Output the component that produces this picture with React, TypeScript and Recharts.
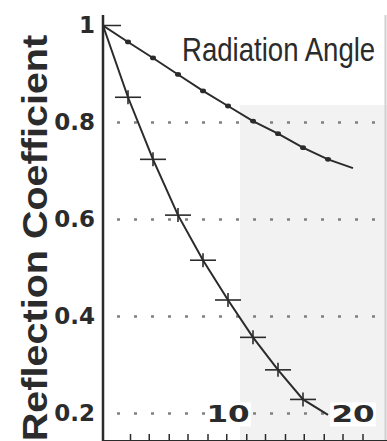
import React from 'react'
import { LineChart, Line, XAxis, YAxis, ReferenceLine, ReferenceArea, ReferenceDot, Customized } from 'recharts'

// radiation angle (deg) and reflection coefficient
const angles = [0, 2, 4, 6, 8, 10, 12, 14, 16, 18, 20]
const horizontal = [1, 0.966, 0.933, 0.899, 0.865, 0.834, 0.803, 0.777, 0.748, 0.724, 0.706]
const vertical = [1, 0.852, 0.724, 0.609, 0.516, 0.434, 0.357, 0.29, 0.229, 0.197, null]

const yTicks = [0.2, 0.4, 0.6, 0.8, 1]
const gridValues = [0.2, 0.4, 0.6, 0.8]
const xTickMarks = [2.2, 3.7, 5.3, 6.8, 8.4, 9.9, 11.5, 13.0, 14.6, 16.1, 17.7, 19.2, 20.8]
const xLabels = [10, 20]

const X_DOMAIN = [0, 22.72]
const Y_DOMAIN = [0.1433, 1.0216]

const data = angles.map((angle, i) => ({
  angle,
  horizontal: horizontal[i],
  vertical: vertical[i],
}))

const INK = '#2b2b2b'
const SANS = '"Liberation Sans", Arial, sans-serif'
const DIGITS = '"DejaVu Sans", sans-serif'

function YTick({ x, y, payload }: any) {
  return (
    <text x={x} y={y + 8} textAnchor="end" fontFamily={DIGITS} fontWeight="bold" fontSize={23} fill={INK}>
      {payload.value === 1 ? '1' : payload.value.toFixed(1)}
    </text>
  )
}

function HDot({ cx, cy, index }: any) {
  if (index === 0 || index === angles.length - 1) return <g key={`h${index}`} />
  return <ellipse key={`h${index}`} cx={cx} cy={cy} rx={3} ry={2.4} fill={INK} />
}

function VDot({ cx, cy, index, value }: any) {
  if (value == null || cy == null || index === angles.length - 2) return <g key={`v${index}`} />
  const w = index === 0 ? 18 : 13
  const h = index === 0 ? 10 : 7
  return (
    <g key={`v${index}`} stroke={INK} strokeWidth={1.6}>
      <line x1={cx - w} y1={cy} x2={cx + w} y2={cy} />
      <line x1={cx} y1={cy - h} x2={cx} y2={cy + h} />
    </g>
  )
}

function AxisNumber(props: any) {
  const { viewBox, value } = props
  const cx = viewBox.x + viewBox.width / 2
  const cy = viewBox.y + viewBox.height / 2
  return (
    <g transform={`translate(${cx},${cy + 9}) scale(1.35,1)`}>
      <rect x={-17} y={-20} width={34} height={24} fill="#fff" />
      <text x={0} y={0} textAnchor="middle" fontFamily={DIGITS} fontWeight="bold" fontSize={23} fill={INK}>
        {value}
      </text>
    </g>
  )
}

function Annotations() {
  return (
    <g fill={INK} fontFamily={SANS}>
      <text transform="translate(47,238) rotate(-90) scale(1.13,1)" textAnchor="middle" fontSize={35} fontWeight="bold">
        Reflection Coefficient
      </text>
      <text transform="translate(182,61) scale(1,1.17)" fontSize={27.6}>Radiation Angle</text>
      <text transform="translate(243,205) scale(1,1.2)" fontSize={28.9}>Horizontal</text>
      <text transform="translate(248,275) scale(1,1.2)" fontSize={28.2}>Vertical</text>
    </g>
  )
}

export default function App() {
  return (
    <div style={{ position: 'absolute', left: 0, top: 0, width: 387, height: 441, overflow: 'hidden', background: '#fff' }}>
      <LineChart width={387} height={441} data={data} margin={{ top: 15, right: 0, bottom: 0, left: 0 }}>
        <ReferenceArea x1={10.96} x2={X_DOMAIN[1]} y1={Y_DOMAIN[0]} y2={0.836} fill="#f2f2f2" fillOpacity={1} stroke="none" ifOverflow="visible" />
        <ReferenceLine x={22.6} stroke="#d0d0d0" strokeWidth={2} />
        {gridValues.map((v) => (
          <ReferenceLine key={v} y={v} stroke="#808080" strokeWidth={2.5} strokeDasharray="3 14" strokeDashoffset={3} />
        ))}
        <XAxis
          dataKey="angle"
          type="number"
          domain={X_DOMAIN}
          allowDataOverflow
          ticks={xTickMarks}
          tickFormatter={() => ''}
          mirror
          tickSize={7}
          height={30}
          tickLine={{ stroke: INK, strokeWidth: 1.5 }}
          axisLine={{ stroke: INK, strokeWidth: 2 }}
        />
        <YAxis
          type="number"
          domain={Y_DOMAIN}
          allowDataOverflow
          ticks={yTicks}
          width={103}
          tickLine={false}
          tick={<YTick />}
          axisLine={{ stroke: INK, strokeWidth: 2.5 }}
        />
        <Line type="linear" dataKey="horizontal" stroke={INK} strokeWidth={2} dot={HDot} isAnimationActive={false} />
        <Line type="linear" dataKey="vertical" stroke={INK} strokeWidth={2} dot={VDot} isAnimationActive={false} />
        {xLabels.map((v) => (
          <ReferenceDot key={v} x={v} y={0.2} r={1} fill="none" stroke="none" label={<AxisNumber value={v} />} />
        ))}
        <Customized component={Annotations} />
      </LineChart>
    </div>
  )
}
